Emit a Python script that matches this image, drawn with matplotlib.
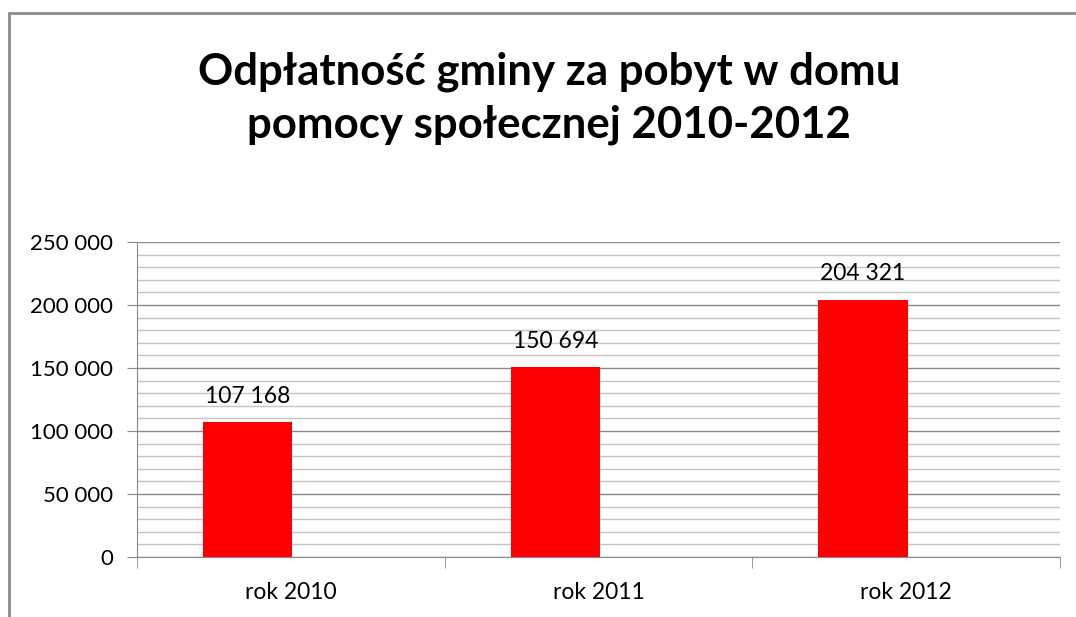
import matplotlib.pyplot as plt
from matplotlib.patches import Rectangle
from matplotlib.ticker import MultipleLocator, FuncFormatter, FixedLocator

plt.rcParams['font.family'] = ['Lato', 'DejaVu Sans']

years = ['rok 2010', 'rok 2011', 'rok 2012']
values = [107168, 150694, 204321]

fig = plt.figure(figsize=(10.76, 6.17), dpi=100)

# chart border (runs off right and bottom edge like the source screenshot)
fig.patches.append(Rectangle((9 / 1076, -0.1), 1.2, 1 - 13 / 617 + 0.1,
                             transform=fig.transFigure, fill=False,
                             edgecolor='#8c8c8c', linewidth=2))

ax = fig.add_axes([137 / 1076, 1 - 557 / 617, (1060 - 137) / 1076, (557 - 242) / 617])

x = list(range(len(years)))
# bars sit left of the category centre (excel layout with an empty 2nd series)
shift = -0.14
bx = [xi + shift for xi in x]
ax.bar(bx, values, width=0.29, color='#ff0000', zorder=3)

for xi, v in zip(bx, values):
    ax.annotate(f'{v:,}'.replace(',', ' '), (xi, v), xytext=(0, 11),
                textcoords='offset points', ha='center', va='bottom',
                fontsize=16.5, color='#000000')

ax.set_xlim(-0.5, 2.5)
ax.set_ylim(0, 250000)

ax.yaxis.set_major_locator(MultipleLocator(50000))
ax.yaxis.set_minor_locator(MultipleLocator(10000))
ax.yaxis.set_major_formatter(FuncFormatter(lambda v, p: f'{int(v):,}'.replace(',', ' ')))
ax.grid(axis='y', which='major', color='#8a8a8a', linewidth=1, zorder=0)
ax.grid(axis='y', which='minor', color='#c4c4c4', linewidth=1, zorder=0)
ax.tick_params(axis='y', which='major', length=7, color='#8a8a8a', labelsize=16, pad=10)
ax.tick_params(axis='y', which='minor', length=0)

ax.set_xticks(x)
ax.set_xticklabels(years)
ax.xaxis.set_minor_locator(FixedLocator([-0.5, 0.5, 1.5, 2.5]))
ax.tick_params(axis='x', which='major', length=0, labelsize=16.5, pad=18)
ax.tick_params(axis='x', which='minor', length=8, color='#8a8a8a')

for s in ['top', 'right']:
    ax.spines[s].set_visible(False)
for s in ['left', 'bottom']:
    ax.spines[s].set_color('#8a8a8a')

fig.text(0.51, 1 - 98 / 617, 'Odpłatność gminy za pobyt w domu\npomocy społecznej 2010-2012',
         ha='center', va='center', fontsize=31.5, fontweight='bold', linespacing=1.38)

fig.savefig('out.png', dpi=100)
